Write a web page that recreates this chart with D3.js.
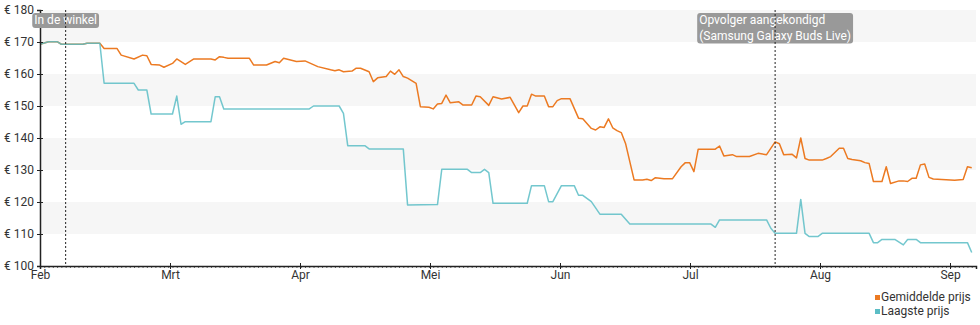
<!DOCTYPE html>
<html>
<head>
<meta charset="utf-8">
<script src="https://cdn.jsdelivr.net/npm/d3@7"></script>
<style>
  body { margin: 0; background: #fff; }
  svg { font-family: Roboto, sans-serif; display: block; }
</style>
</head>
<body>
<div id="wrapper"></div>
<script>
// days counted from 1 Feb
const monthLabels = ["Feb", "Mrt", "Apr", "Mei", "Jun", "Jul", "Aug", "Sep"]
const priceTicks = [100, 110, 120, 130, 140, 150, 160, 170, 180]
const seriesNames = ["Gemiddelde prijs", "Laagste prijs"]
const seriesColors = ["#ec7a22", "#5bbdc5"]

const markerDays = [6, 172]
const markerLabels = [["In de winkel"], ["Opvolger aangekondigd", "(Samsung Galaxy Buds Live)"]]

const avgPrice = [
  [0,169.3],[2,170.1],[4,170.1],[5,169.3],[10,169.3],[11,169.6],[14,169.6],[15,168.0],[18,168.0],
  [19,165.9],[22,164.7],[24,165.9],[25,165.7],[26,163.0],[28,162.8],[29,162.1],[31,163.3],[32,164.7],
  [34,163.0],[36,164.7],[40,164.7],[41,164.4],[42,165.4],[43,165.2],[44,164.9],[49,164.9],[50,162.8],
  [53,162.8],[55,163.9],[56,163.5],[57,164.9],[60,163.9],[62,164.1],[65,162.3],[68,161.3],[69,161.0],
  [70,161.3],[71,160.7],[73,160.9],[74,161.8],[75,161.8],[77,160.7],[78,157.6],[79,158.8],[81,159.2],
  [82,160.9],[83,159.9],[84,161.3],[85,159.2],[86,158.7],[88,157.1],[89,149.8],[91,149.6],[92,149.1],
  [93,150.6],[94,150.8],[95,153.4],[96,151.0],[98,151.3],[99,150.3],[101,150.3],[102,153.1],[103,152.9],
  [105,150.2],[106,152.9],[108,152.2],[110,152.7],[112,147.9],[113,150.0],[114,150.0],[115,153.7],
  [116,153.1],[118,153.1],[119,149.8],[120,149.8],[121,151.7],[122,152.3],[124,152.3],[126,146.2],
  [127,146.0],[129,143.0],[130,142.5],[131,143.5],[132,143.3],[133,146.0],[134,143.2],[135,142.3],
  [136,141.7],[137,138.3],[139,126.9],[141,126.9],[142,127.1],[143,126.7],[144,127.6],[146,127.3],
  [148,127.3],[150,131.0],[151,132.3],[152,132.3],[153,129.5],[154,136.5],[158,136.5],[159,137.5],
  [160,134.4],[162,134.8],[163,134.2],[166,134.2],[168,135.2],[170,134.8],[172,138.8],[173,138.2],
  [174,134.8],[176,134.9],[177,133.8],[178,140.0],[179,133.6],[180,133.1],[183,133.1],[184,133.6],
  [185,134.2],[187,136.8],[188,136.8],[189,133.6],[190,133.3],[192,132.9],[193,132.3],[194,132.0],
  [195,126.4],[197,126.4],[198,131.0],[199,125.8],[201,126.6],[202,126.6],[203,126.4],[204,127.4],
  [205,127.4],[206,131.6],[207,131.9],[208,127.7],[209,127.2],[214,126.8],[216,127.0],[217,131.0],
  [218,130.7]
]

const lowPrice = [
  [0,169.3],[2,170.1],[4,170.1],[5,169.3],[10,169.3],[11,169.6],[14,169.6],[15,157.1],[22,157.1],
  [23,155.0],[25,155.0],[26,147.5],[31,147.5],[32,153.1],[33,144.3],[34,145.1],[40,145.1],[41,152.9],
  [42,152.9],[43,149.1],[63,149.1],[64,150.0],[70,150.0],[71,147.7],[72,137.6],[76,137.6],[77,136.6],
  [85,136.6],[86,119.1],[93,119.2],[94,130.2],[100,130.2],[101,129.2],[103,129.2],[104,130.2],
  [105,129.2],[106,119.6],[114,119.6],[115,125.1],[118,125.1],[119,120.1],[120,120.1],[122,125.1],
  [125,125.1],[126,122.1],[127,122.1],[129,120.1],[131,116.2],[136,116.2],[138,113.1],[157,113.1],
  [158,112.1],[159,114.4],[170,114.4],[171,111.8],[172,110.2],[177,110.2],[178,120.8],[179,110.2],
  [180,109.2],[182,109.2],[183,110.2],[194,110.2],[195,107.3],[196,107.3],[197,108.3],[200,108.3],
  [202,106.6],[203,108.3],[205,108.3],[206,107.3],[217,107.3],[218,104.2]
]

const dimensions = {
  width: 980,
  height: 325,
  margin: { top: 10, right: 4, bottom: 59, left: 40 }
}
dimensions.boundedWidth = dimensions.width - dimensions.margin.left - dimensions.margin.right
dimensions.boundedHeight = dimensions.height - dimensions.margin.top - dimensions.margin.bottom

const svg = d3.select("#wrapper")
  .append("svg")
    .attr("width", dimensions.width)
    .attr("height", dimensions.height)

const bounds = svg.append("g")
    .attr("transform", `translate(${dimensions.margin.left},${dimensions.margin.top})`)

const xScale = d3.scaleLinear()
    .domain([0, 219])
    .range([0, dimensions.boundedWidth])

const yScale = d3.scaleLinear()
    .domain([100, 180])
    .range([dimensions.boundedHeight, 0])

// alternating bands
const bandStarts = priceTicks.slice(0, -1).filter((d, i) => i % 2 === 1)
bounds.selectAll(".band")
  .data(bandStarts)
  .join("rect")
    .attr("class", "band")
    .attr("x", 0)
    .attr("width", dimensions.boundedWidth)
    .attr("y", d => yScale(d + 10))
    .attr("height", d => yScale(d) - yScale(d + 10))
    .attr("fill", "#f6f6f6")

// lines
const lineGenerator = d3.line()
    .x(d => xScale(d[0]))
    .y(d => yScale(d[1]))

const seriesData = [avgPrice, lowPrice]
bounds.selectAll(".series")
  .data(seriesData)
  .join("path")
    .attr("class", "series")
    .attr("d", d => lineGenerator(d))
    .attr("fill", "none")
    .attr("stroke", (d, i) => seriesColors[i])
    .attr("stroke-width", 1.5)
    .attr("stroke-opacity", (d, i) => i === 1 ? 0.85 : 1)
    .attr("stroke-linejoin", "round")

// axes
const monthDays = monthLabels.map((m, i) => i * 365 / 12)

const minorAxis = d3.axisBottom(xScale)
    .tickValues(d3.range(0, 220))
    .tickSize(2)
    .tickFormat("")
const minor = bounds.append("g")
    .attr("transform", `translate(0,${dimensions.boundedHeight})`)
    .call(minorAxis)
minor.select(".domain").remove()
minor.selectAll("line").attr("stroke", "#666")

const xAxisGenerator = d3.axisBottom(xScale)
    .tickValues(monthDays)
    .tickSize(3)
    .tickPadding(1)
    .tickFormat((d, i) => monthLabels[i])
const xAxis = bounds.append("g")
    .attr("transform", `translate(0,${dimensions.boundedHeight})`)
    .call(xAxisGenerator)
xAxis.selectAll(".tick line").attr("y1", -3).attr("stroke", "#222")

const yAxisGenerator = d3.axisLeft(yScale)
    .tickValues(priceTicks)
    .tickSize(3)
    .tickPadding(3)
    .tickFormat(d => "€ " + d)
const yAxis = bounds.append("g")
    .call(yAxisGenerator)
yAxis.selectAll(".tick line").attr("x1", 3).attr("stroke", "#222")

;[xAxis, yAxis].forEach(ax => {
  ax.select(".domain").attr("stroke", "#222").attr("stroke-width", 1.5)
  ax.selectAll("text")
    .attr("fill", "#333")
    .style("font-family", "Roboto, sans-serif")
    .style("font-size", "12px")
})

// markers: label box centred on the line, text left aligned inside
const markers = bounds.selectAll(".marker")
  .data(markerDays)
  .join("g")
    .attr("class", "marker")

markers.each(function (day, i) {
  const g = d3.select(this)
  const x = xScale(day)
  const label = g.append("g")
  const text = label.append("text")
      .attr("fill", "#fff")
      .style("font-size", "12px")
  const spans = markerLabels[i].map((line, j) =>
    text.append("tspan")
        .attr("x", 0)
        .attr("y", 14 + j * 15.5)
        .text(line)
  )
  const w = text.node().getBBox().width
  spans.forEach(s => s.attr("x", x - w / 2))
  const box = text.node().getBBox()
  label.insert("rect", "text")
      .attr("x", box.x - 2)
      .attr("y", box.y)
      .attr("width", box.width + 4)
      .attr("height", box.height + 1)
      .attr("rx", 3)
      .attr("fill", "#999")
  g.append("line")
      .attr("x1", x)
      .attr("x2", x)
      .attr("y1", 0)
      .attr("y2", dimensions.boundedHeight)
      .attr("stroke", "#222")
      .attr("stroke-width", 1)
      .attr("stroke-dasharray", "2,2")
})

// legend
const legend = svg.append("g")
    .attr("transform", "translate(875,292)")
const legendItems = legend.selectAll("g")
  .data(seriesNames)
  .join("g")
    .attr("transform", (d, i) => `translate(0,${i * 14})`)
legendItems.append("rect")
    .attr("y", 3)
    .attr("width", 5)
    .attr("height", 5)
    .attr("fill", (d, i) => seriesColors[i])
legendItems.append("text")
    .attr("x", 6)
    .attr("y", 9)
    .attr("fill", "#333")
    .style("font-size", "12px")
    .text(d => d)
</script>
</body>
</html>
